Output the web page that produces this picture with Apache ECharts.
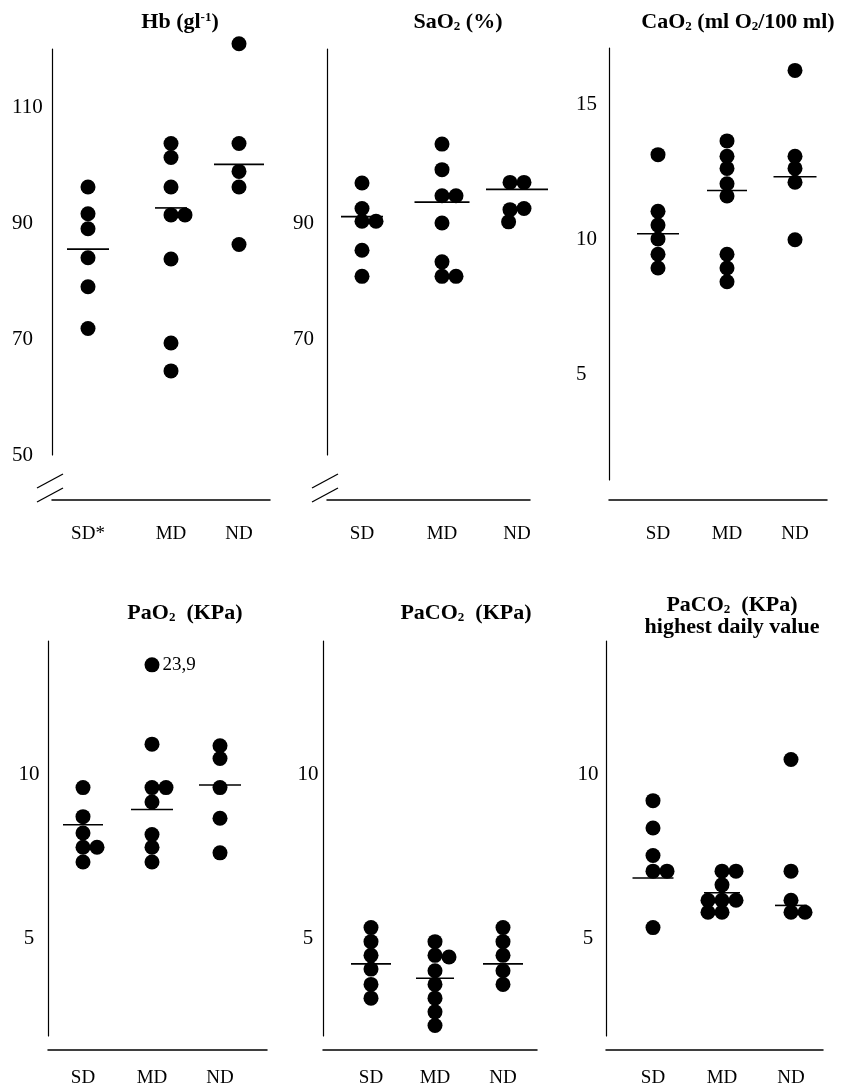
<!DOCTYPE html>
<html>
<head>
<meta charset="utf-8">
<title>Blood gases by group</title>
<script src="https://cdn.jsdelivr.net/npm/echarts@6.0.0/dist/echarts.min.js"></script>
<style>
  html, body { margin: 0; padding: 0; background: #fff; }
  #chart { width: 842px; height: 1089px; }
</style>
</head>
<body>
<div id="chart"></div>
<script>
// group names on the x axes
const groups = ['SD', 'MD', 'ND'];
const groupsHb = ['SD*', 'MD', 'ND'];

// Hb (g/l)
const hbSD = [96.2, 91.6, 89.0, 84.0, 79.0, 71.8];
const hbMD = [103.7, 101.3, 96.2, 91.4, 91.4, 83.8, 69.3, 64.5];
const hbND = [120.9, 103.7, 98.9, 96.2, 86.3];
const hbMed = [85.5, 92.6, 100.1];

// SaO2 (%)
const saSD = [96.9, 92.5, 90.3, 90.3, 85.3, 80.8];
const saMD = [103.6, 99.2, 94.7, 94.7, 90.0, 83.3, 80.8, 80.8];
const saND = [97.0, 97.0, 92.5, 92.3, 90.2];
const saMed = [91.1, 93.6, 95.8];

// CaO2 (ml O2/100 ml)
const caSD = [13.15, 11.05, 10.54, 10.03, 9.46, 8.95];
const caMD = [13.66, 13.09, 12.64, 12.07, 11.62, 9.46, 8.95, 8.44];
const caND = [16.27, 13.09, 12.64, 12.13, 10.0];
const caMed = [10.22, 11.82, 12.33];

// PaO2 (KPa)
const paSD = [9.61, 8.72, 8.22, 7.78, 7.78, 7.33];
const paMD = [23.9, 10.94, 9.61, 9.61, 9.17, 8.17, 7.78, 7.33];
const paND = [10.89, 10.5, 9.61, 8.67, 7.61];
const paMed = [8.47, 8.94, 9.69];

// PaCO2 (KPa)
const pcSD = [5.32, 4.89, 4.47, 4.05, 3.58, 3.16];
const pcMD = [4.89, 4.47, 4.42, 4.0, 3.58, 3.16, 2.74, 2.32];
const pcND = [5.32, 4.89, 4.47, 4.0, 3.58];
const pcMed = [4.21, 3.77, 4.21];

// PaCO2 (KPa), highest daily value
const phSD = [9.21, 8.37, 7.53, 7.05, 7.05, 5.32];
const phMD = [7.05, 7.05, 6.63, 6.16, 6.16, 6.16, 5.79, 5.79];
const phND = [10.47, 7.05, 6.16, 5.79, 5.79];
const phMed = [6.84, 6.39, 6.0];

const font = 'Liberation Serif';
const dot = 15;   // marker size
const step = 14;  // sideways step for dots that touch

// layout of the six panels (pixels), plus sideways placement of touching dots
const panels = [
  { title: 'Hb (gl{sup|-1})', tx: 180, ty: 11,
    cats: groupsHb, data: [hbSD, hbMD, hbND], med: hbMed, medW: [42, 32, 50],
    shift: [[0, 0, 0, 0, 0, 0], [0, 0, 0, 0, 1, 0, 0, 0], [0, 0, 0, 0, 0]],
    left: 52, right: 270, c: [88, 171, 239], top: 49, bottom: 455, lineY: 500, labelGap: 25,
    yMin: 50, yMax: 120, yTicks: [50, 70, 90, 110], tickLeft: 12, align: 'left', brk: true },
  { title: 'SaO{sub|2} (%)', tx: 458, ty: 11,
    cats: groups, data: [saSD, saMD, saND], med: saMed, medW: [42, 55, 62],
    shift: [[0, 0, 0, 1, 0, 0], [0, 0, 0, 1, 0, 0, 0, 1], [-0.5, 0.5, 0.5, -0.5, -0.6]],
    left: 327, right: 530, c: [362, 442, 517], top: 49, bottom: 455, lineY: 500, labelGap: 25,
    yMin: 50, yMax: 120, yTicks: [70, 90], tickLeft: 293, align: 'left', brk: true },
  { title: 'CaO{sub|2} (ml O{sub|2}/100 ml)', tx: 738, ty: 11,
    cats: groups, data: [caSD, caMD, caND], med: caMed, medW: [42, 40, 43],
    shift: [[0, 0, 0, 0, 0, 0], [0, 0, 0, 0, 0, 0, 0, 0], [0, 0, 0, 0, 0]],
    left: 609, right: 827, c: [658, 727, 795], top: 48, bottom: 480, lineY: 500, labelGap: 25,
    yMin: 1.1, yMax: 17.1, yTicks: [5, 10, 15], tickLeft: 576, align: 'left' },
  { title: 'PaO{sub|2}  (KPa)', tx: 185, ty: 602,
    cats: groups, data: [paSD, paMD, paND], med: paMed, medW: [40, 42, 42], capAt: 13.37,
    shift: [[0, 0, 0, 0, 1, 0], [0, 0, 0, 1, 0, 0, 0, 0], [0, 0, 0, 0, 0]],
    left: 48, right: 267, c: [83, 152, 220], top: 641, bottom: 1036, lineY: 1050, labelGap: 19,
    yMin: 2.0, yMax: 14.1, yTicks: [5, 10], tickLeft: 29, align: 'center' },
  { title: 'PaCO{sub|2}  (KPa)', tx: 466, ty: 602,
    cats: groups, data: [pcSD, pcMD, pcND], med: pcMed, medW: [40, 38, 40],
    shift: [[0, 0, 0, 0, 0, 0], [0, 0, 1, 0, 0, 0, 0, 0], [0, 0, 0, 0, 0]],
    left: 323, right: 537, c: [371, 435, 503], top: 641, bottom: 1036, lineY: 1050, labelGap: 19,
    yMin: 2.0, yMax: 14.1, yTicks: [5, 10], tickLeft: 308, align: 'center' },
  { title: 'PaCO{sub|2}  (KPa)\nhighest daily value', tx: 732, ty: 594,
    cats: groups, data: [phSD, phMD, phND], med: phMed, medW: [41, 36, 32],
    shift: [[0, 0, 0, 0, 1, 0], [0, 1, 0, -1, 0, 1, -1, 0], [0, 0, 0, 0, 1]],
    left: 606, right: 823, c: [653, 722, 791], top: 641, bottom: 1036, lineY: 1050, labelGap: 19,
    yMin: 2.0, yMax: 14.1, yTicks: [5, 10], tickLeft: 588, align: 'center' }
];

const titleRich = {
  sub: { fontFamily: font, fontWeight: 'bold', fontSize: 13, lineHeight: 13, verticalAlign: 'bottom' },
  sup: { fontFamily: font, fontWeight: 'bold', fontSize: 13, lineHeight: 13, verticalAlign: 'top' }
};

const grids = [], xAxes = [], yAxes = [], series = [], titles = [], marks = [];

panels.forEach((p, k) => {
  // group i sits at x = gx[i] on a value axis where SD = 1 and ND = 3
  const unit = (p.c[2] - p.c[0]) / 2;
  const gx = p.c.map(c => 1 + (c - p.c[0]) / unit);
  grids.push({ left: p.left, top: p.top, width: p.right - p.left, height: p.bottom - p.top });

  xAxes.push({
    type: 'value', gridIndex: k,
    min: 1 - (p.c[0] - p.left) / unit, max: 3 + (p.right - p.c[2]) / unit,
    offset: p.lineY - p.bottom,
    axisLine: { onZero: false, lineStyle: { color: '#000', width: 1.5 } },
    axisTick: { show: false }, splitLine: { show: false },
    axisLabel: {
      customValues: gx, margin: p.labelGap,
      formatter: v => p.cats[gx.findIndex(g => Math.abs(g - v) < 1e-6)],
      color: '#000', fontFamily: font, fontSize: 19
    }
  });

  yAxes.push({
    type: 'value', gridIndex: k, min: p.yMin, max: p.yMax,
    axisLine: { show: true, onZero: false, lineStyle: { color: '#000', width: 1.2 } },
    axisTick: { show: false }, splitLine: { show: false },
    axisLabel: {
      customValues: p.yTicks, align: p.align, margin: p.left - p.tickLeft,
      color: '#000', fontFamily: font, fontSize: 21
    }
  });

  const pts = [];
  p.data.forEach((vals, i) => vals.forEach((v, j) => {
    const over = p.capAt != null && v > p.yMax;
    const item = { value: [gx[i], over ? p.capAt : v], symbolOffset: [p.shift[i][j] * step, 0] };
    if (over) item.label = { show: true, formatter: String(v).replace('.', ',') };
    pts.push(item);
  }));

  series.push({
    type: 'scatter', xAxisIndex: k, yAxisIndex: k, data: pts,
    symbol: 'circle', symbolSize: dot, clip: false, silent: true,
    itemStyle: { color: '#000', opacity: 1 },
    label: { show: false, position: 'right', distance: 3, color: '#000', fontFamily: font, fontSize: 19 }
  });

  series.push({
    type: 'scatter', xAxisIndex: k, yAxisIndex: k, symbol: 'rect', clip: false, silent: true, z: 3,
    data: p.med.map((m, i) => ({ value: [gx[i], m], symbolSize: [p.medW[i], 1.6] })),
    itemStyle: { color: '#000', opacity: 1 }
  });

  titles.push({
    text: p.title, left: p.tx, top: p.ty, textAlign: 'center', padding: 0,
    textStyle: { fontFamily: font, fontWeight: 'bold', fontSize: 22, lineHeight: 22, color: '#000', rich: titleRich }
  });

  // axis break marks at the foot of the y axis
  if (p.brk) {
    [0, -14].forEach(d => marks.push({
      type: 'line', silent: true,
      shape: { x1: p.left - 15, y1: p.lineY + 2 + d, x2: p.left + 11, y2: p.lineY - 12 + d },
      style: { stroke: '#000', lineWidth: 1.3 }
    }));
  }
});

const chart = echarts.init(document.getElementById('chart'));
chart.setOption({
  animation: false,
  backgroundColor: '#fff',
  title: titles,
  grid: grids,
  xAxis: xAxes,
  yAxis: yAxes,
  series: series,
  graphic: marks
});
</script>
</body>
</html>
